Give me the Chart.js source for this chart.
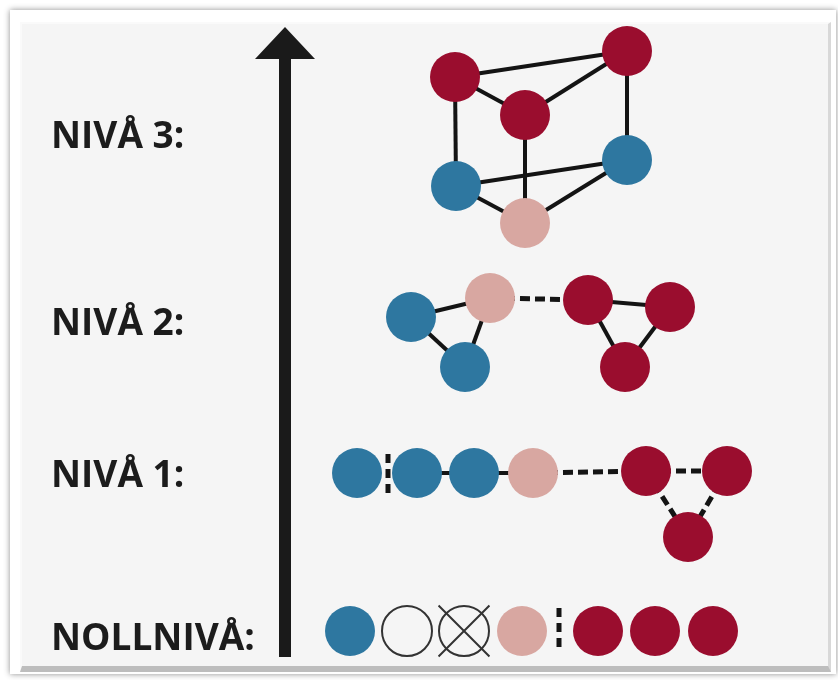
<!DOCTYPE html>
<html>
<head>
<meta charset="utf-8">
<script src="https://cdn.jsdelivr.net/npm/chart.js@4"></script>
<style>
  html, body { margin: 0; padding: 0; background: #fff; }
  #page { position: relative; width: 838px; height: 680px; overflow: hidden; }
  #frame { position: absolute; left: 10px; top: 10px; width: 826px; height: 664px; background: #fff;
           box-shadow: 0 0 6px rgba(0,0,0,0.45); }
  #panel { position: absolute; left: 20px; top: 22px; width: 806px; height: 642px; background: #f5f5f5;
           border-top: 2px solid #fafafa; border-left: 2px solid #fafafa;
           border-right: 3px solid #d8d8d8; border-bottom: 6px solid #bdbdbd; }
  #wrap { position: absolute; left: 0; top: 0; width: 838px; height: 680px; }
</style>
</head>
<body>
<div id="page">
  <div id="frame"></div>
  <div id="panel"></div>
  <div id="wrap"><canvas id="myChart"></canvas></div>
</div>
<script>
// level labels and where they sit on the vertical scale
var levelLabels = ['NIVÅ 3:', 'NIVÅ 2:', 'NIVÅ 1:', 'NOLLNIVÅ:'];
var levelY = [148, 335, 487, 650];

// nodes, grouped by colour
var blueX = [456, 627, 411, 465, 357, 417, 474, 350];
var blueY = [186, 160, 317, 367, 473, 473, 473, 631];
var pinkX = [525, 490, 533, 522];
var pinkY = [223, 298, 473, 631];
var redX = [455, 627, 525, 588, 670, 625, 646, 727, 688, 598, 655, 713];
var redY = [77, 51, 115, 300, 307, 367, 471, 471, 537, 631, 631, 631];
var emptyX = [407, 464];
var emptyY = [631, 631];
var crossedX = [464];
var crossedY = [631];

// links: [x1, y1, x2, y2]
var solidLinks = [
    [455, 77, 627, 51], [455, 77, 525, 115], [525, 115, 627, 51],
    [455, 77, 456, 186], [627, 51, 627, 160], [525, 115, 525, 223],
    [456, 186, 627, 160], [456, 186, 525, 223], [525, 223, 627, 160],
    [411, 317, 490, 298], [411, 317, 465, 367], [490, 298, 465, 367],
    [588, 300, 670, 307], [588, 300, 625, 367], [670, 307, 625, 367],
    [417, 473, 474, 473], [474, 473, 533, 473]
];
var dashedLinks = [
    [490, 298, 588, 300],
    [533, 473, 646, 471], [646, 471, 727, 471], [646, 471, 688, 537], [727, 471, 688, 537]
];
var separators = [
    [388, 454, 388, 498],
    [559, 608, 559, 652]
];
// the upward arrow
var arrowX = [285, 285];
var arrowY = [657, 58];

function pts(xs, ys) {
    var out = [];
    for (var i = 0; i < xs.length; i++) out.push({ x: xs[i], y: ys[i] });
    return out;
}

function linkSet(l, dash, width, order) {
    return {
        type: 'line',
        data: [{ x: l[0], y: l[1] }, { x: l[2], y: l[3] }],
        borderColor: '#141414',
        borderWidth: width,
        borderDash: dash,
        borderCapStyle: 'butt',
        pointRadius: 0,
        order: order
    };
}

// arrow head shape
var head = document.createElement('canvas');
head.width = 60; head.height = 32;
var hctx = head.getContext('2d');
hctx.fillStyle = '#1a1a1a';
hctx.beginPath();
hctx.moveTo(30, 0); hctx.lineTo(60, 32); hctx.lineTo(0, 32); hctx.closePath();
hctx.fill();

var datasets = [];
solidLinks.forEach(function (l) { datasets.push(linkSet(l, [], 4, 5)); });
dashedLinks.forEach(function (l) { datasets.push(linkSet(l, [10, 5], 5, 5)); });
separators.forEach(function (l) { datasets.push(linkSet(l, [9, 6], 5, 5)); });

datasets.push({
    type: 'line', data: pts(arrowX, arrowY), borderColor: '#1a1a1a', borderWidth: 12,
    borderCapStyle: 'butt', pointRadius: 0, order: 4
});
datasets.push({
    data: [{ x: 285, y: 43 }], pointStyle: head, pointRadius: 30, order: 3
});

datasets.push({ data: pts(blueX, blueY), backgroundColor: '#2e77a0', borderColor: '#2e77a0', pointRadius: 25, borderWidth: 0, order: 1 });
datasets.push({ data: pts(pinkX, pinkY), backgroundColor: '#d8a7a1', borderColor: '#d8a7a1', pointRadius: 25, borderWidth: 0, order: 1 });
datasets.push({ data: pts(redX, redY), backgroundColor: '#9a0d2e', borderColor: '#9a0d2e', pointRadius: 25, borderWidth: 0, order: 1 });
datasets.push({ data: pts(emptyX, emptyY), backgroundColor: 'rgba(0,0,0,0)', borderColor: '#333', pointRadius: 25, borderWidth: 2, order: 1 });
datasets.push({ data: pts(crossedX, crossedY), pointStyle: 'crossRot', borderColor: '#333', pointRadius: 36, borderWidth: 2, order: 0 });

// writes the level names next to the arrow
var levelText = {
    id: 'levelText',
    afterDatasetsDraw: function (chart) {
        var ctx = chart.ctx;
        var ys = chart.scales.y;
        var xs = chart.scales.x;
        ctx.save();
        ctx.fillStyle = '#1c1c1c';
        ctx.font = '700 37px "Open Sans"';
        ctx.textBaseline = 'alphabetic';
        for (var i = 0; i < levelLabels.length; i++) {
            ctx.fillText(levelLabels[i], xs.getPixelForValue(51), ys.getPixelForValue(levelY[i]));
        }
        ctx.restore();
    }
};

var ctx = document.getElementById('myChart').getContext('2d');
var myChart = new Chart(ctx, {
    type: 'scatter',
    data: { datasets: datasets },
    options: {
        responsive: true,
        maintainAspectRatio: false,
        animation: false,
        events: [],
        layout: { padding: 0, autoPadding: false },
        plugins: { legend: { display: false }, tooltip: { enabled: false } },
        scales: {
            x: { type: 'linear', min: 0, max: 838, display: false },
            y: { type: 'linear', min: 0, max: 680, reverse: true, display: false }
        }
    },
    plugins: [levelText]
});
</script>
</body>
</html>
